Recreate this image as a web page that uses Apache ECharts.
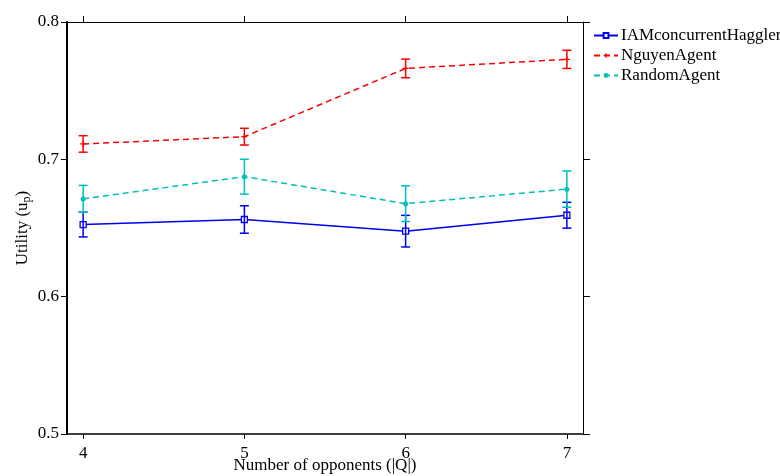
<!DOCTYPE html>
<html>
<head>
<meta charset="utf-8">
<script src="https://cdn.jsdelivr.net/npm/echarts@6/dist/echarts.min.js"></script>
<style>
  html, body { margin: 0; padding: 0; background: #fff; }
  #main { width: 780px; height: 476px; }
</style>
</head>
<body>
<div id="main"></div>
<script>
// number of opponents
const opponents = [4, 5, 6, 7];
// mean utility + error half-width per agent
const iamMean = [0.6525, 0.6562, 0.6477, 0.6593];
const iamErr = [0.0090, 0.0100, 0.0115, 0.0094];
const nguyenMean = [0.7112, 0.7165, 0.7662, 0.7728];
const nguyenErr = [0.0060, 0.0061, 0.0068, 0.0066];
const randomMean = [0.6712, 0.6874, 0.6677, 0.6783];
const randomErr = [0.0098, 0.0127, 0.0130, 0.0132];
const yTicks = [0.5, 0.6, 0.7, 0.8];

const FONT = "Liberation Serif";
const FS = 17;
const BLUE = "#0000ee";
const RED = "#ff0000";
const CYAN = "#00bfbf";

function pts(mean) {
  return opponents.map((x, i) => [x, mean[i]]);
}
function bars(mean, err) {
  return opponents.map((x, i) => [x, mean[i] - err[i], mean[i] + err[i]]);
}

// vertical error bar with caps
function errorBar(color) {
  return function (params, api) {
    const lo = api.coord([api.value(0), api.value(1)]);
    const hi = api.coord([api.value(0), api.value(2)]);
    const w = 4.5;
    const style = { stroke: color, lineWidth: 1.5 };
    return {
      type: "group",
      children: [
        { type: "line", shape: { x1: lo[0], y1: lo[1], x2: hi[0], y2: hi[1] }, style: style },
        { type: "line", shape: { x1: lo[0] - w, y1: lo[1], x2: lo[0] + w, y2: lo[1] }, style: style },
        { type: "line", shape: { x1: hi[0] - w, y1: hi[1], x2: hi[0] + w, y2: hi[1] }, style: style }
      ]
    };
  };
}

const plusPath = "path://M4,0h2v4h4v2h-4v4h-2v-4h-4v-2h4z";

let myChart = echarts.init(document.getElementById("main"));
let axisCommon = {
  axisLine: { show: true, lineStyle: { color: "#000", width: 1 } },
  splitLine: { show: false }
};
let option = {
  animation: false,
  backgroundColor: "#fff",
  textStyle: { fontFamily: FONT },
  grid: { left: 67, right: 197, top: 22, bottom: 42, outerBoundsMode: "none", containLabel: false },
  legend: {
    data: ["IAMconcurrentHaggler", "NguyenAgent", "RandomAgent"],
    orient: "vertical",
    left: 593,
    top: 27,
    padding: 0,
    itemWidth: 24,
    itemHeight: 6,
    itemGap: 3,
    textStyle: { fontFamily: FONT, fontSize: FS, lineHeight: 16, color: "#000", padding: [0, 0, 0, -2] }
  },
  xAxis: [
    Object.assign({}, axisCommon, {
      type: "value",
      min: 3.9,
      max: 7.1,
      position: "bottom",
      name: "Number of opponents (|Q|)",
      nameLocation: "middle",
      nameMoveOverlap: false,
      nameGap: 23,
      nameTextStyle: { fontFamily: FONT, fontSize: FS, color: "#000" },
      axisLine: { show: true, lineStyle: { color: "#000", width: 1.5 } },
      axisTick: { show: true, length: 5, customValues: opponents, lineStyle: { color: "#000" } },
      axisLabel: { customValues: opponents, fontFamily: FONT, fontSize: FS, color: "#000", margin: 11 }
    }),
    Object.assign({}, axisCommon, {
      type: "value",
      min: 3.9,
      max: 7.1,
      position: "top",
      axisTick: { show: true, length: 6, customValues: opponents, lineStyle: { color: "#000" } },
      axisLabel: { show: false }
    })
  ],
  yAxis: [
    Object.assign({}, axisCommon, {
      type: "value",
      min: 0.5,
      max: 0.8,
      position: "left",
      name: "Utility (u{sub|p})",
      nameLocation: "middle",
      nameMoveOverlap: false,
      nameRotate: 90,
      nameGap: 34,
      nameTextStyle: {
        fontFamily: FONT, fontSize: FS, color: "#000",
        rich: { sub: { fontFamily: FONT, fontSize: 12, verticalAlign: "bottom", padding: [9, 0, 0, 0] } }
      },
      axisLine: { show: true, lineStyle: { color: "#000", width: 2 } },
      axisTick: { show: true, length: 6, customValues: yTicks, lineStyle: { color: "#000" } },
      axisLabel: {
        customValues: yTicks, fontFamily: FONT, fontSize: FS, color: "#000", margin: 8,
        formatter: (v) => v.toFixed(1)
      }
    }),
    Object.assign({}, axisCommon, {
      type: "value",
      min: 0.5,
      max: 0.8,
      position: "right",
      axisTick: { show: true, length: 7, customValues: yTicks, lineStyle: { color: "#000" } },
      axisLabel: { show: false }
    })
  ],
  series: [
    {
      name: "IAMconcurrentHaggler",
      type: "line",
      data: pts(iamMean),
      symbol: "rect",
      symbolSize: 6,
      itemStyle: { color: "#fff", borderColor: BLUE, borderWidth: 1.3 },
      lineStyle: { color: BLUE, width: 1.5, type: "solid" },
      z: 3
    },
    {
      name: "NguyenAgent",
      type: "line",
      data: pts(nguyenMean),
      symbol: plusPath,
      symbolSize: 6,
      itemStyle: { color: RED, borderWidth: 0 },
      lineStyle: { color: RED, width: 1.5, type: [6, 4] },
      z: 3
    },
    {
      name: "RandomAgent",
      type: "line",
      data: pts(randomMean),
      symbol: "circle",
      symbolSize: 5,
      itemStyle: { color: CYAN, borderWidth: 0 },
      lineStyle: { color: CYAN, width: 1.5, type: [6, 4] },
      z: 3
    },
    {
      name: "IAMconcurrentHaggler",
      type: "custom",
      renderItem: errorBar(BLUE),
      data: bars(iamMean, iamErr),
      encode: { x: 0, y: [1, 2] },
      z: 4
    },
    {
      name: "NguyenAgent",
      type: "custom",
      renderItem: errorBar(RED),
      data: bars(nguyenMean, nguyenErr),
      encode: { x: 0, y: [1, 2] },
      z: 4
    },
    {
      name: "RandomAgent",
      type: "custom",
      renderItem: errorBar(CYAN),
      data: bars(randomMean, randomErr),
      encode: { x: 0, y: [1, 2] },
      z: 4
    }
  ]
};
myChart.setOption(option);
</script>
</body>
</html>
